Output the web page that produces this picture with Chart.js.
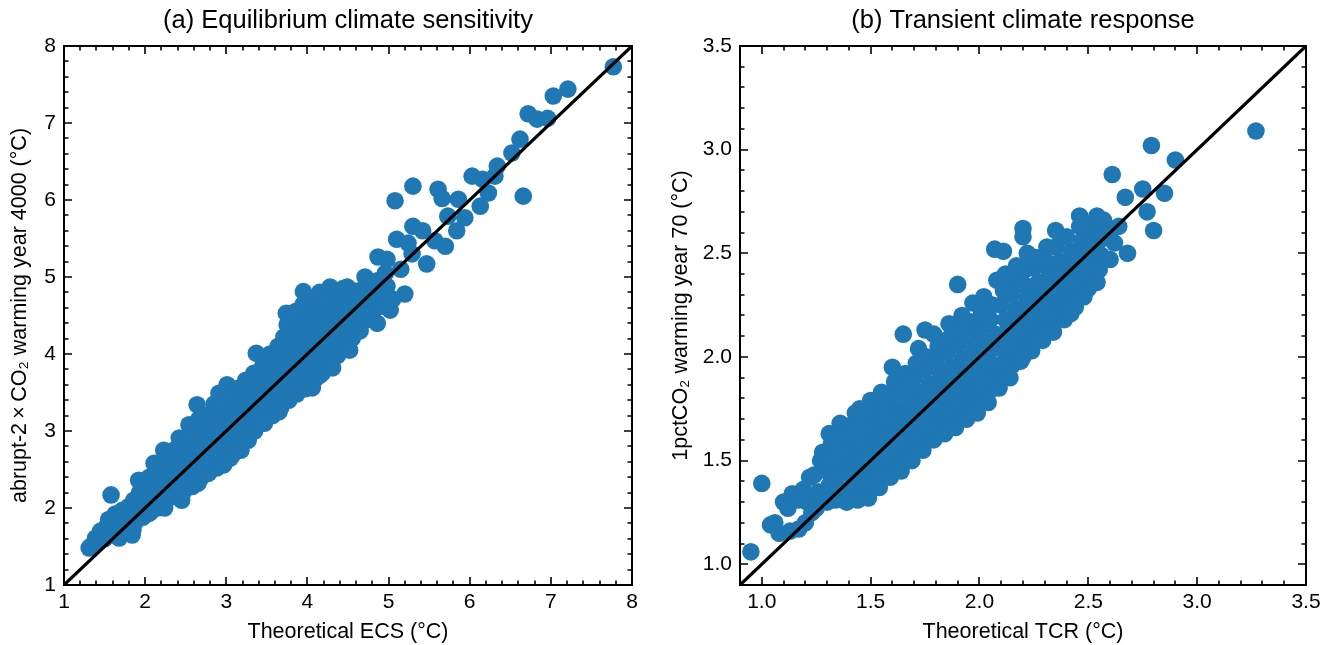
<!DOCTYPE html>
<html>
<head>
<meta charset="utf-8">
<script src="https://cdn.jsdelivr.net/npm/chart.js@4.4.0/dist/chart.umd.min.js"></script>
<style>
  html, body { margin: 0; padding: 0; background: #fff; overflow: hidden; }
  canvas { position: absolute; top: 0; }
  #ecs-chart { left: 0; }
  #tcr-chart { left: 661px; }
</style>
</head>
<body>
<canvas id="ecs-chart" width="661" height="645"></canvas>
<canvas id="tcr-chart" width="662" height="645"></canvas>
<script>
// axis limits and tick labels
const ecsLimits = [1, 8];
const ecsTicks = [1, 2, 3, 4, 5, 6, 7, 8];
const tcrLimits = [0.9, 3.5];
const tcrTicks = [1.0, 1.5, 2.0, 2.5, 3.0, 3.5];

// [theoretical ECS, abrupt-2xCO2 warming year 4000]
const ecsPoints = [
  [1.31,1.48],[1.36,1.53],[1.33,1.5],
  [1.39,1.61],[1.42,1.55],[1.45,1.7],[1.46,1.6],
  [1.5,1.6],[1.52,1.75],[1.48,1.68],[1.55,1.85],[1.55,1.68],[1.56,1.78],
  [1.58,2.17],[1.6,1.65],[1.62,1.78],[1.63,1.92],[1.66,1.7],[1.65,1.74],[1.66,1.85],
  [1.68,1.61],[1.7,1.86],[1.72,1.97],[1.74,1.75],[1.76,1.68],[1.75,1.8],[1.76,1.92],
  [1.78,1.9],[1.8,2.02],[1.84,1.65],[1.82,1.78],[1.86,2.1],[1.85,1.72],[1.85,1.85],[1.86,1.97],
  [1.88,1.82],[1.9,1.95],[1.92,2.36],[1.93,2.2],[1.95,2.08],[1.95,1.92],[1.96,2.02],[1.95,2.15],[1.96,2.28],
  [1.97,1.88],[2.0,2.3],[2.02,2.0],[2.04,2.15],[2.05,2.4],[2.05,1.93],[2.06,2.07],[2.05,2.22],[2.06,2.33],
  [2.07,1.95],[2.09,2.1],[2.11,2.58],[2.12,2.25],[2.14,2.45],[2.1,2.02],[2.15,2.0],[2.16,2.12],[2.15,2.3],[2.16,2.4],
  [2.17,2.05],[2.19,2.18],[2.2,2.35],[2.23,2.75],[2.22,2.52],[2.24,2.0],
  [2.25,2.08],[2.26,2.2],[2.25,2.38],[2.26,2.5],[2.25,2.62],
  [2.27,2.15],[2.28,2.3],[2.3,2.45],[2.32,2.62],[2.33,2.22],[2.35,2.75],
  [2.35,2.28],[2.36,2.38],[2.35,2.52],[2.36,2.68],
  [2.37,2.15],[2.39,2.38],[2.42,2.91],[2.4,2.55],[2.44,2.7],[2.45,2.1],
  [2.45,2.22],[2.46,2.35],[2.45,2.48],[2.46,2.62],[2.45,2.8],
  [2.48,2.22],[2.5,2.42],[2.52,2.6],[2.54,3.08],[2.53,2.82],[2.56,2.32],
  [2.55,2.52],[2.56,2.7],[2.55,2.9],
  [2.58,2.28],[2.6,2.5],[2.62,2.7],[2.64,3.34],[2.63,2.95],[2.66,3.15],[2.65,2.4],
  [2.65,2.32],[2.66,2.6],[2.65,2.8],[2.66,3.05],
  [2.68,2.38],[2.7,2.6],[2.72,2.8],[2.74,3.0],[2.75,3.2],[2.76,2.5],
  [2.75,2.45],[2.76,2.7],[2.75,2.9],[2.76,3.1],
  [2.78,2.45],[2.8,2.7],[2.82,2.9],[2.84,3.1],[2.85,3.35],[2.86,2.58],
  [2.85,2.62],[2.86,2.8],[2.85,3.0],[2.86,3.22],
  [2.88,2.52],[2.9,2.8],[2.91,3.49],[2.92,3.0],[2.94,3.25],[2.95,2.65],
  [2.95,2.6],[2.96,2.72],[2.95,2.9],[2.96,3.12],[2.95,3.35],
  [2.97,2.56],[2.98,2.75],[3.0,2.95],[3.01,3.6],[3.02,3.15],[3.04,3.38],[3.05,2.65],
  [3.05,2.7],[3.06,2.82],[3.05,3.02],[3.06,3.25],[3.05,3.48],
  [3.07,2.68],[3.08,2.9],[3.1,3.1],[3.12,3.3],[3.13,3.55],[3.15,2.78],
  [3.15,2.85],[3.16,3.0],[3.15,3.2],[3.16,3.42],
  [3.18,2.75],[3.19,2.95],[3.2,3.2],[3.22,3.42],[3.24,3.66],[3.25,3.05],
  [3.25,2.95],[3.26,3.15],[3.25,3.35],[3.26,3.55],
  [3.27,2.88],[3.28,3.05],[3.3,3.3],[3.32,3.52],[3.34,3.75],[3.35,3.15],
  [3.35,3.0],[3.36,3.2],[3.35,3.42],[3.36,3.65],
  [3.37,4.01],[3.38,3.08],[3.4,3.3],[3.42,3.55],[3.43,3.8],[3.45,3.2],
  [3.45,3.15],[3.46,3.45],[3.45,3.68],[3.46,3.9],
  [3.47,3.1],[3.49,3.35],[3.5,3.6],[3.52,3.85],[3.54,4.0],[3.55,3.25],
  [3.55,3.3],[3.56,3.5],[3.55,3.75],[3.56,3.92],
  [3.57,3.2],[3.58,3.45],[3.6,3.7],[3.62,3.95],[3.64,4.1],[3.65,3.35],
  [3.65,3.25],[3.66,3.45],[3.65,3.6],[3.66,3.85],[3.65,4.02],
  [3.67,3.3],[3.68,3.55],[3.7,3.8],[3.72,4.05],[3.74,4.53],[3.71,4.22],[3.75,3.42],
  [3.75,3.5],[3.76,3.7],[3.75,3.95],[3.76,4.15],[3.75,4.38],
  [3.77,3.4],[3.78,3.65],[3.8,3.9],[3.82,4.15],[3.84,4.42],[3.85,3.5],
  [3.85,3.6],[3.86,3.8],[3.85,4.05],[3.86,4.3],[3.85,4.55],
  [3.87,3.48],[3.88,3.75],[3.9,4.0],[3.92,4.25],[3.93,4.6],[3.95,4.81],[3.96,3.58],
  [3.95,3.65],[3.96,3.9],[3.95,4.15],[3.96,4.4],[3.95,4.65],
  [3.98,3.55],[4.0,3.8],[4.01,4.05],[4.03,4.35],[4.04,4.51],[4.06,3.56],[4.05,3.68],
  [4.05,3.72],[4.06,3.95],[4.05,4.22],[4.06,4.45],[4.05,4.7],
  [4.08,3.65],[4.1,3.9],[4.11,4.15],[4.13,4.45],[4.14,4.72],[4.15,3.72],
  [4.15,3.82],[4.16,4.05],[4.15,4.3],[4.16,4.58],[4.15,4.8],
  [4.18,3.75],[4.2,3.98],[4.21,4.25],[4.23,4.55],[4.24,4.8],[4.25,3.85],
  [4.25,3.95],[4.26,4.15],[4.25,4.4],[4.26,4.68],
  [4.28,4.87],[4.3,3.9],[4.31,3.82],[4.32,4.1],[4.33,4.35],[4.35,4.62],
  [4.35,4.05],[4.36,4.28],[4.35,4.5],[4.36,4.75],
  [4.37,3.98],[4.39,4.2],[4.4,4.45],[4.42,4.7],[4.44,4.85],[4.45,4.08],
  [4.45,4.2],[4.46,4.38],[4.45,4.6],[4.46,4.78],
  [4.47,4.15],[4.49,4.87],[4.5,4.32],[4.52,4.05],[4.53,4.55],[4.55,4.72],
  [4.55,4.2],[4.56,4.4],[4.55,4.62],[4.56,4.82],
  [4.57,4.25],[4.6,4.45],[4.62,4.65],[4.64,4.82],[4.65,4.3],
  [4.65,4.4],[4.66,4.55],[4.65,4.72],
  [4.68,4.42],[4.71,5.0],[4.7,4.6],[4.73,4.78],[4.75,4.45],
  [4.75,4.52],[4.76,4.68],[4.75,4.88],
  [4.78,4.5],[4.8,4.7],[4.82,4.85],[4.86,4.4],[4.87,5.26],[4.85,4.6],
  [4.85,4.7],[4.86,4.95],
  [4.9,4.75],[4.93,4.62],[4.96,5.05],[4.95,4.8],[5.02,4.57],
  [5.08,5.99],[5.3,6.18],[5.61,6.14],[5.66,6.02],[5.86,6.01],[6.03,6.31],
  [6.16,6.27],[6.23,6.09],[6.13,5.92],[5.73,5.79],[5.94,5.77],[5.84,5.6],
  [5.3,5.66],[5.42,5.6],[5.57,5.47],[5.7,5.4],[5.1,5.49],[5.47,5.17],
  [5.29,5.3],[4.98,5.23],[5.2,4.78],[5.05,4.71],[4.98,4.88],[5.15,5.1],[5.24,5.44],
  [6.31,6.31],[6.34,6.44],[6.52,6.61],[6.62,6.79],[6.66,6.05],[6.72,7.12],
  [6.83,7.05],[6.96,7.06],[7.03,7.35],[7.21,7.44],[7.77,7.73]
];

// [theoretical TCR, 1pctCO2 warming year 70]
const tcrPoints = [
  [0.95,1.06],[1.0,1.39],
  [1.04,1.19],[1.08,1.15],[1.13,1.16],[1.17,1.17],[1.2,1.2],[1.06,1.2],
  [1.1,1.3],[1.12,1.27],[1.14,1.34],[1.17,1.31],
  [1.21,1.3],[1.19,1.36],[1.22,1.42],[1.23,1.25],
  [1.24,1.43],[1.25,1.27],[1.26,1.35],[1.27,1.5],[1.28,1.54],
  [1.3,1.3],[1.31,1.38],[1.3,1.45],[1.31,1.52],[1.32,1.58],[1.31,1.63],
  [1.34,1.31],[1.35,1.37],[1.36,1.44],[1.35,1.5],[1.36,1.56],[1.37,1.62],[1.36,1.68],
  [1.39,1.3],[1.4,1.36],[1.41,1.43],[1.4,1.49],[1.41,1.55],[1.42,1.61],[1.41,1.67],[1.43,1.73],
  [1.44,1.31],[1.45,1.38],[1.46,1.45],[1.45,1.52],[1.46,1.58],[1.47,1.64],[1.46,1.7],[1.45,1.75],
  [1.49,1.32],[1.5,1.39],[1.51,1.46],[1.5,1.53],[1.51,1.6],[1.52,1.66],[1.51,1.72],[1.5,1.79],
  [1.54,1.37],[1.55,1.43],[1.56,1.5],[1.55,1.57],[1.56,1.63],[1.57,1.7],[1.56,1.76],[1.55,1.83],
  [1.59,1.42],[1.6,1.49],[1.61,1.55],[1.6,1.62],[1.61,1.68],[1.62,1.75],[1.6,1.82],[1.61,1.88],[1.6,1.95],
  [1.64,1.45],[1.65,1.52],[1.66,1.58],[1.65,1.65],[1.66,1.72],[1.67,1.79],[1.65,1.86],[1.66,1.92],[1.65,2.11],
  [1.69,1.5],[1.7,1.56],[1.71,1.62],[1.7,1.69],[1.71,1.76],[1.72,1.83],[1.7,1.9],[1.71,1.97],[1.72,2.04],
  [1.74,1.55],[1.75,1.6],[1.76,1.66],[1.75,1.73],[1.76,1.8],[1.77,1.87],[1.75,1.94],[1.76,2.0],[1.75,2.13],
  [1.79,1.6],[1.8,1.65],[1.81,1.71],[1.8,1.78],[1.81,1.85],[1.82,1.92],[1.8,1.98],[1.81,2.05],[1.79,2.11],
  [1.84,1.63],[1.85,1.68],[1.86,1.74],[1.85,1.81],[1.86,1.88],[1.87,1.95],[1.85,2.02],[1.86,2.09],[1.86,2.16],
  [1.89,1.66],[1.9,1.72],[1.91,1.78],[1.9,1.85],[1.91,1.92],[1.92,1.99],[1.9,2.06],[1.91,2.13],[1.9,2.35],[1.92,2.2],
  [1.94,1.7],[1.95,1.76],[1.96,1.82],[1.95,1.89],[1.96,1.96],[1.97,2.03],[1.95,2.1],[1.96,2.17],[1.97,2.26],
  [1.99,1.73],[2.0,1.79],[2.01,1.86],[2.0,1.93],[2.01,2.0],[2.02,2.07],[2.0,2.14],[2.01,2.21],[2.02,2.29],
  [2.04,1.78],[2.05,1.84],[2.06,1.9],[2.05,1.97],[2.06,2.04],[2.07,2.11],[2.05,2.18],[2.06,2.25],[2.08,2.37],[2.07,2.52],
  [2.09,1.85],[2.1,1.91],[2.11,1.97],[2.1,2.04],[2.11,2.11],[2.12,2.18],[2.1,2.25],[2.11,2.32],[2.11,2.51],[2.12,2.4],
  [2.14,1.9],[2.15,1.96],[2.16,2.02],[2.15,2.09],[2.16,2.16],[2.17,2.23],[2.15,2.3],[2.16,2.37],[2.17,2.44],
  [2.19,1.98],[2.2,2.0],[2.21,2.07],[2.2,2.14],[2.21,2.21],[2.22,2.28],[2.2,2.35],[2.21,2.42],[2.2,2.58],[2.2,2.62],[2.22,2.5],[2.22,2.34],
  [2.24,2.03],[2.25,2.09],[2.26,2.15],[2.25,2.22],[2.26,2.29],[2.27,2.36],[2.25,2.43],[2.26,2.48],
  [2.29,2.08],[2.3,2.14],[2.31,2.2],[2.3,2.27],[2.31,2.34],[2.32,2.41],[2.3,2.47],[2.31,2.53],
  [2.34,2.12],[2.35,2.18],[2.36,2.25],[2.35,2.32],[2.36,2.39],[2.37,2.46],[2.35,2.53],[2.35,2.61],
  [2.39,2.18],[2.4,2.24],[2.41,2.3],[2.42,2.21],[2.4,2.37],[2.41,2.44],[2.42,2.51],[2.4,2.58],
  [2.44,2.24],[2.45,2.29],[2.46,2.35],[2.45,2.42],[2.46,2.49],[2.47,2.56],[2.46,2.63],[2.46,2.68],
  [2.48,2.29],[2.49,2.37],[2.5,2.33],[2.5,2.44],[2.51,2.51],[2.52,2.58],[2.5,2.64],[2.54,2.68],
  [2.54,2.36],[2.55,2.42],[2.56,2.49],[2.55,2.56],[2.56,2.62],[2.57,2.66],
  [2.6,2.47],[2.61,2.88],[2.62,2.55],[2.6,2.6],[2.64,2.63],
  [2.67,2.77],[2.68,2.5],[2.75,2.81],[2.77,2.7],[2.8,2.61],[2.79,3.02],[2.85,2.79],[2.9,2.95],[3.27,3.09]
];

const dotColor = '#1f77b4';
const fontFamily = "'Liberation Sans', Arial, Helvetica, sans-serif";
Chart.defaults.font.family = fontFamily;
Chart.defaults.color = '#000';

// frame plus inward major/minor ticks on all four sides
const frameTicks = {
  id: 'frameTicks',
  afterDatasetsDraw(chart, args, opts) {
    const { ctx, chartArea: a, scales: { x, y } } = chart;
    ctx.save();
    ctx.strokeStyle = '#000';
    ctx.lineWidth = 1.6;
    const mark = (scale, values, len) => {
      values.forEach(v => {
        const p = Math.round(scale.getPixelForValue(v));
        ctx.beginPath();
        if (scale.isHorizontal()) {
          ctx.moveTo(p, a.bottom); ctx.lineTo(p, a.bottom - len);
          ctx.moveTo(p, a.top); ctx.lineTo(p, a.top + len);
        } else {
          ctx.moveTo(a.left, p); ctx.lineTo(a.left + len, p);
          ctx.moveTo(a.right, p); ctx.lineTo(a.right - len, p);
        }
        ctx.stroke();
      });
    };
    [x, y].forEach(scale => {
      const majors = scale.ticks.map(t => t.value);
      const minors = [];
      for (let i = Math.ceil(scale.min / opts.minor - 1e-6); i * opts.minor <= scale.max + 1e-6; i++) {
        const v = i * opts.minor;
        if (!majors.some(m => Math.abs(m - v) < 1e-6)) minors.push(v);
      }
      mark(scale, majors, 8);
      mark(scale, minors, 4.5);
    });
    ctx.lineWidth = 2;
    ctx.strokeRect(a.left, a.top, a.right - a.left, a.bottom - a.top);
    ctx.restore();
  }
};

const makePanel = (id, p) => {
  const tickFont = { size: 21, family: fontFamily };
  const labelFont = { size: 21.5, family: fontFamily };
  return new Chart(document.getElementById(id), {
    type: 'scatter',
    data: {
      datasets: [{
        type: 'line',
        data: [{ x: p.limits[0], y: p.limits[0] }, { x: p.limits[1], y: p.limits[1] }],
        borderColor: '#000',
        borderWidth: 3.2,
        pointRadius: 0,
        clip: 0
      }, {
        data: p.points.map(([x, y]) => ({ x, y })),
        backgroundColor: dotColor,
        borderWidth: 0,
        pointRadius: 8.8,
        clip: 0
      }]
    },
    options: {
      responsive: false,
      animation: false,
      events: [],
      layout: { padding: { left: 0, right: p.padRight, top: 0, bottom: 0 } },
      plugins: {
        legend: { display: false },
        tooltip: { enabled: false },
        title: {
          display: true,
          text: p.title,
          fullSize: false,
          color: '#000',
          font: { size: 25.5, weight: 'normal', family: fontFamily },
          padding: { top: 6, bottom: 9.4 }
        },
        frameTicks: { minor: p.minor }
      },
      scales: {
        x: {
          type: 'linear',
          min: p.limits[0],
          max: p.limits[1],
          afterBuildTicks: s => { s.ticks = p.ticks.map(v => ({ value: v })); },
          afterFit: s => { s.height = 60; s.paddingLeft = 0; s.paddingRight = 0; },
          grid: { display: false, drawTicks: false },
          border: { display: false },
          ticks: { font: tickFont, color: '#000', padding: 5, maxRotation: 0, autoSkip: false,
                   callback: v => v.toFixed(p.decimals) },
          title: { display: true, text: p.xLabel, color: '#000', font: labelFont, padding: { top: 0, bottom: 0 } }
        },
        y: {
          type: 'linear',
          min: p.limits[0],
          max: p.limits[1],
          afterBuildTicks: s => { s.ticks = p.ticks.map(v => ({ value: v })); },
          afterFit: s => { s.width = p.axisWidth; s.paddingTop = 0; s.paddingBottom = 0; },
          grid: { display: false, drawTicks: false },
          border: { display: false },
          ticks: { font: tickFont, color: '#000', padding: 8, autoSkip: false,
                   callback: v => v.toFixed(p.decimals) },
          title: { display: true, text: p.yLabel, color: '#000', font: labelFont, padding: { top: 7, bottom: 0 } }
        }
      }
    },
    plugins: [frameTicks]
  });
};

makePanel('ecs-chart', {
  title: '(a) Equilibrium climate sensitivity',
  xLabel: 'Theoretical ECS (°C)',
  yLabel: 'abrupt-2\u2009×\u2009CO₂ warming year 4000 (°C)',
  points: ecsPoints,
  limits: ecsLimits,
  ticks: ecsTicks,
  minor: 0.2,
  decimals: 0,
  axisWidth: 64,
  padRight: 29
});

makePanel('tcr-chart', {
  title: '(b) Transient climate response',
  xLabel: 'Theoretical TCR (°C)',
  yLabel: '1pctCO₂ warming year 70 (°C)',
  points: tcrPoints,
  limits: tcrLimits,
  ticks: tcrTicks,
  minor: 0.1,
  decimals: 1,
  axisWidth: 79,
  padRight: 17
});
</script>
</body>
</html>
